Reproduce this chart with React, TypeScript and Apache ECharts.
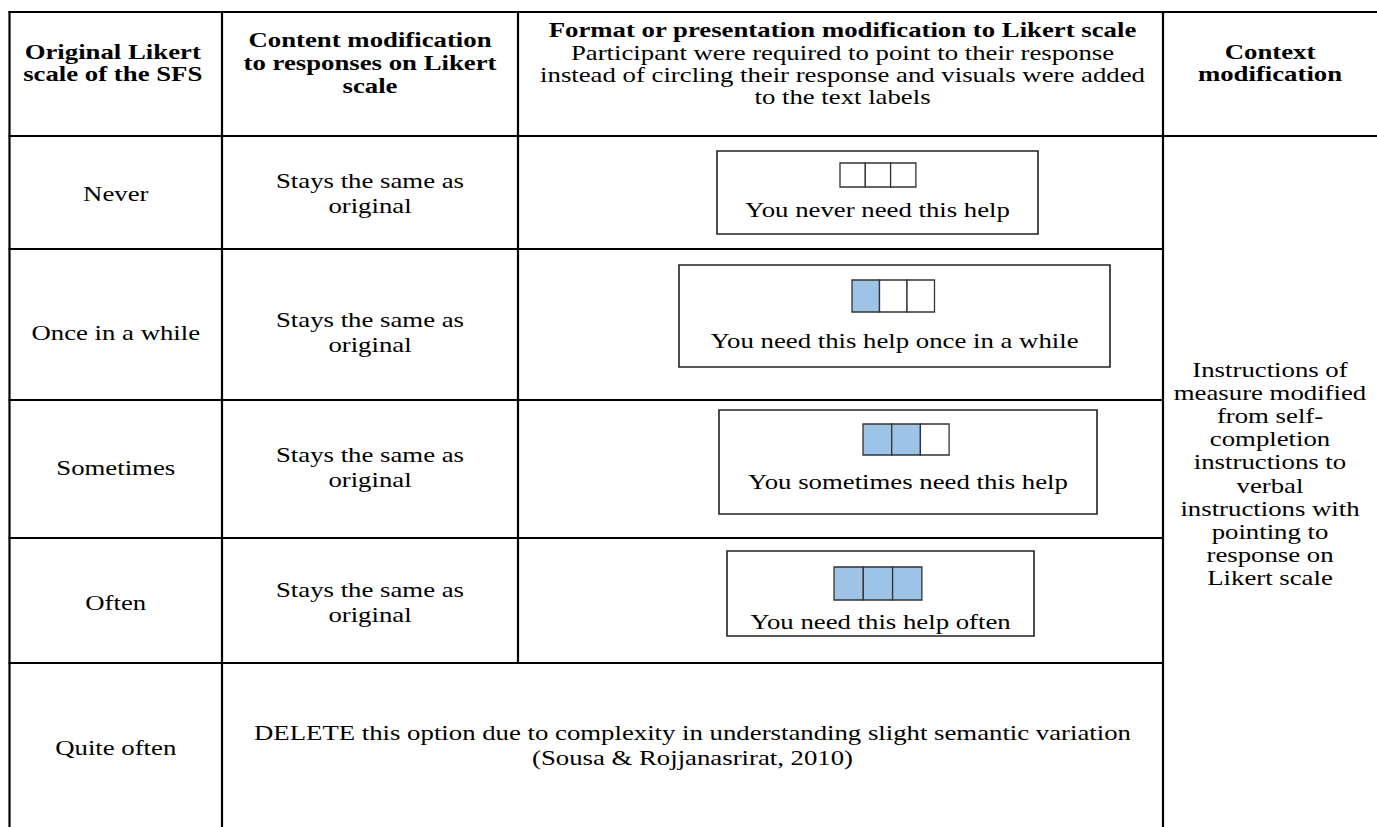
import React, { useEffect, useRef } from "react";
import * as echarts from "echarts";

// ---- content ----
const headerCol1 = ["Original Likert", "scale of the SFS"];
const headerCol2 = ["Content modification", "to responses on Likert", "scale"];
const headerCol3Title = "Format or presentation modification to Likert scale";
const headerCol3Body = [
  "Participant were required to point to their response",
  "instead of circling their response and visuals were added",
  "to the text labels",
];
const headerCol4 = ["Context", "modification"];

const likertOriginal = ["Never", "Once in a while", "Sometimes", "Often", "Quite often"];
const contentModification = [
  ["Stays the same as", "original"],
  ["Stays the same as", "original"],
  ["Stays the same as", "original"],
  ["Stays the same as", "original"],
];
const visualLabels = [
  "You never need this help",
  "You need this help once in a while",
  "You sometimes need this help",
  "You need this help often",
];
const filledSquares = [0, 1, 2, 3];
const deletedText = [
  "DELETE this option due to complexity in understanding slight semantic variation",
  "(Sousa & Rojjanasrirat, 2010)",
];
const contextModification = [
  "Instructions of",
  "measure modified",
  "from self-",
  "completion",
  "instructions to",
  "verbal",
  "instructions with",
  "pointing to",
  "response on",
  "Likert scale",
];

// ---- layout ----
const W = 1377;
const H = 827;
const colX = [9.5, 222, 518, 1163];
const rowY = [12, 136, 249, 400, 538, 663];
const FS = 21;
const SX = 1.275;
const LINE = 23;
const FONT = '"Liberation Serif", "Times New Roman", Times, serif';
const rowCenters = [194, 333, 468, 603, 748];
const boxes = [
  { x: 717, y: 151, w: 321, h: 83, sq: { x: 840, y: 163, w: 25.3, h: 24 }, ty: 210 },
  { x: 679, y: 265, w: 431, h: 102, sq: { x: 852, y: 280, w: 27.5, h: 32 }, ty: 341 },
  { x: 719, y: 410, w: 378, h: 104, sq: { x: 863, y: 424, w: 28.7, h: 31 }, ty: 482 },
  { x: 727, y: 551, w: 307, h: 85, sq: { x: 834, y: 567, w: 29.3, h: 33 }, ty: 622 },
];

function txt(x: number, y: number, s: string, bold = false): any {
  return {
    type: "text",
    x,
    y,
    scaleX: SX,
    silent: true,
    style: {
      text: s,
      fontFamily: FONT,
      fontSize: FS,
      fontWeight: bold ? "bold" : "normal",
      fill: "#000",
      align: "center",
      verticalAlign: "middle",
      textAlign: "center",
      textVerticalAlign: "middle",
    },
  };
}

function lines(cx: number, cy: number, arr: string[], bold = false, lh = LINE): any[] {
  const start = cy - ((arr.length - 1) * lh) / 2;
  return arr.map((s, i) => txt(cx, start + i * lh, s, bold));
}

function hline(y: number, x1: number, x2: number): any {
  return { type: "line", silent: true, shape: { x1, y1: y, x2, y2: y }, style: { stroke: "#000", lineWidth: 2.2 } };
}
function vline(x: number, y1: number, y2: number): any {
  return { type: "line", silent: true, shape: { x1: x, y1, x2: x, y2 }, style: { stroke: "#000", lineWidth: 2.2 } };
}

export default function App() {
  const ref = useRef<HTMLDivElement>(null);
  useEffect(() => {
    if (!ref.current) return;
    const chart = echarts.init(ref.current, undefined, { renderer: "svg" });
    const els: any[] = [];
    els.push({ type: "rect", silent: true, shape: { x: 0, y: 0, width: W, height: H }, style: { fill: "#fff" } });

    // table grid
    els.push(hline(rowY[0], colX[0] - 1, W));
    els.push(hline(rowY[1], colX[0] - 1, W));
    for (let i = 2; i < rowY.length; i++) els.push(hline(rowY[i], colX[0] - 1, colX[3]));
    els.push(vline(colX[0], rowY[0] - 1, H));
    els.push(vline(colX[1], rowY[0] - 1, H));
    els.push(vline(colX[2], rowY[0] - 1, rowY[5]));
    els.push(vline(colX[3], rowY[0] - 1, H));

    // header
    const c1 = (colX[0] + colX[1]) / 2 - 3;
    const c2 = (colX[1] + colX[2]) / 2;
    const c3 = (colX[2] + colX[3]) / 2 + 2;
    const c4 = 1270;
    els.push(...lines(c1, 63, headerCol1, true, 22.5));
    els.push(...lines(c2, 63, headerCol2, true, 23));
    els.push(txt(c3, 30, headerCol3Title, true));
    els.push(...lines(c3, 75, headerCol3Body, false, 22));
    els.push(...lines(c4, 63, headerCol4, true, 22.5));

    // rows
    likertOriginal.forEach((s, i) => els.push(txt(c1 + 3, rowCenters[i], s)));
    contentModification.forEach((arr, i) => els.push(...lines(c2, rowCenters[i] - 0.5, arr, false, 25)));

    boxes.forEach((b, i) => {
      els.push({
        type: "rect",
        silent: true,
        shape: { x: b.x, y: b.y, width: b.w, height: b.h },
        style: { fill: "#fff", stroke: "#222", lineWidth: 1.6 },
      });
      for (let k = 0; k < 3; k++) {
        els.push({
          type: "rect",
          silent: true,
          shape: { x: b.sq.x + k * b.sq.w, y: b.sq.y, width: b.sq.w, height: b.sq.h },
          style: { fill: k < filledSquares[i] ? "#9DC3E6" : "#fff", stroke: "#333", lineWidth: 1.3 },
        });
      }
      els.push(txt(b.x + b.w / 2, b.ty, visualLabels[i]));
    });

    els.push(...lines((colX[1] + colX[3]) / 2, 745.5, deletedText, false, 25));
    els.push(...lines(c4, 474, contextModification, false, 23.1));

    chart.setOption({ animation: false, graphic: { elements: els } });
    return () => chart.dispose();
  }, []);
  return <div ref={ref} style={{ position: "fixed", left: 0, top: 0, width: W, height: H, background: "#fff" }} />;
}
